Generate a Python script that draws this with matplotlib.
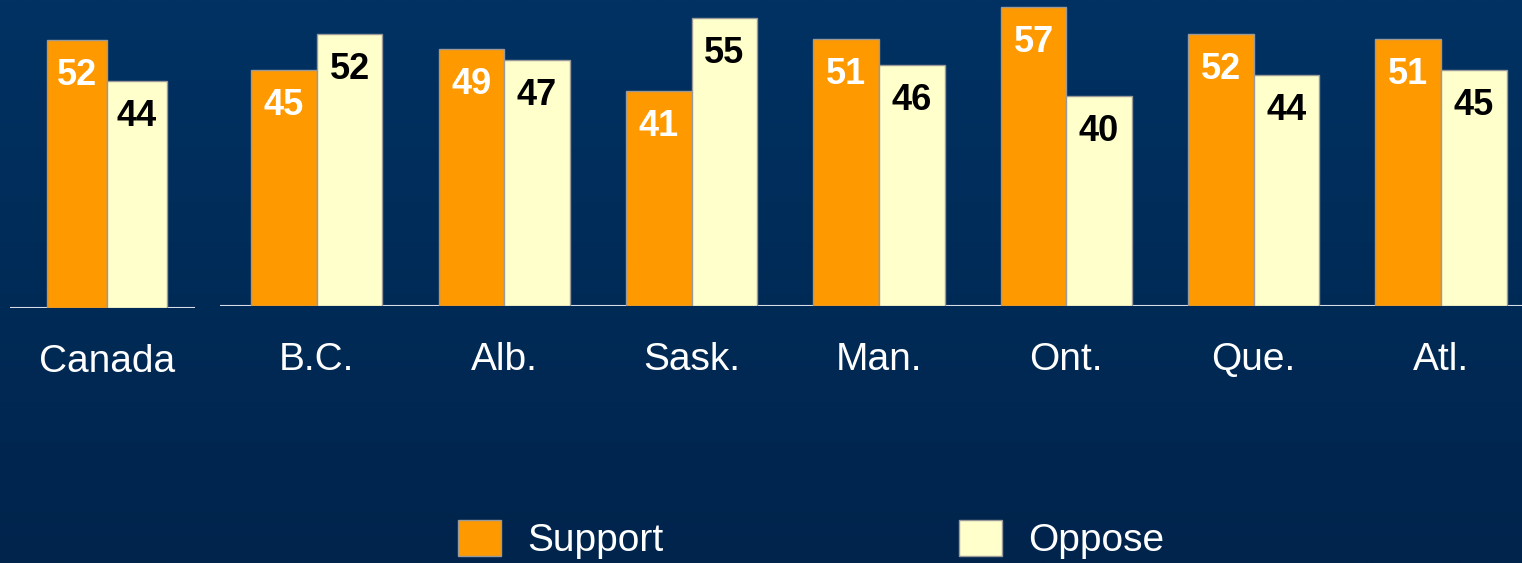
import numpy as np
import matplotlib.pyplot as plt
from matplotlib.patches import Patch

# data
canada_label = ["Canada"]
canada_support = [52]
canada_oppose = [44]

provinces = ["B.C.", "Alb.", "Sask.", "Man.", "Ont.", "Que.", "Atl."]
support = [45, 49, 41, 51, 57, 52, 51]
oppose = [52, 47, 55, 46, 40, 44, 45]

orange = "#FF9900"
cream = "#FFFFCC"
edge = "#9a9a9a"
plt.rcParams["font.family"] = ["Liberation Sans", "DejaVu Sans"]

W, H = 1522, 563
fig = plt.figure(figsize=(W / 100, H / 100), dpi=100)

# gradient background
bg = fig.add_axes([0, 0, 1, 1], zorder=-10)
grad = np.linspace(0, 1, 256).reshape(-1, 1)
top = np.array([0, 50, 99]) / 255
bottom = np.array([1, 36, 76]) / 255
img = top + (bottom - top) * grad[:, :, None]
bg.imshow(img, aspect="auto", extent=[0, 1, 0, 1])
bg.axis("off")


def draw_group(ax, labels, sup, opp, width):
    x = np.arange(len(labels))
    ax.bar(x - width / 2, sup, width, color=orange, edgecolor=edge, linewidth=1, zorder=2)
    ax.bar(x + width / 2, opp, width, color=cream, edgecolor=edge, linewidth=1, zorder=2)
    ax.axhline(0, color="#d8dce6", lw=1.5, zorder=1)
    for xi, s, o in zip(x, sup, opp):
        ax.annotate(str(s), (xi - width / 2, s), xytext=(0, -13), textcoords="offset points",
                    ha="center", va="top", fontsize=26, fontweight="bold", color="white")
        ax.annotate(str(o), (xi + width / 2, o), xytext=(0, -13), textcoords="offset points",
                    ha="center", va="top", fontsize=26, fontweight="bold", color="black")
    ax.set_xticks(x)
    ax.set_xticklabels(labels, fontsize=28, color="white")
    ax.tick_params(axis="x", length=0, pad=26)
    ax.set_yticks([])
    for sp in ax.spines.values():
        sp.set_visible(False)
    ax.set_facecolor("none")


# Canada panel
ax1 = fig.add_axes([10 / W, (H - 308) / H, 185 / W, 308 / H])
draw_group(ax1, canada_label, canada_support, canada_oppose, 0.32)
ax1.set_xlim(-0.517, 0.47)
ax1.set_ylim(0, 308 / 5.15)

# provinces panel
ax2 = fig.add_axes([220 / W, (H - 306) / H, 1302 / W, 306 / H])
draw_group(ax2, provinces, support, oppose, 0.35)
ax2.set_xlim(-0.517, 6.432)
ax2.set_ylim(0, 306 / 5.24)

handles = [Patch(facecolor=orange, edgecolor=edge), Patch(facecolor=cream, edgecolor=edge)]
leg = fig.legend(handles, ["Support", "Oppose"], ncol=2, loc="center",
                 bbox_to_anchor=(0.533, 0.042), frameon=False, fontsize=28,
                 handlelength=1.1, handleheight=1.05, handletextpad=0.67,
                 columnspacing=7.6)
for t in leg.get_texts():
    t.set_color("white")

fig.savefig("out.png", dpi=100)
